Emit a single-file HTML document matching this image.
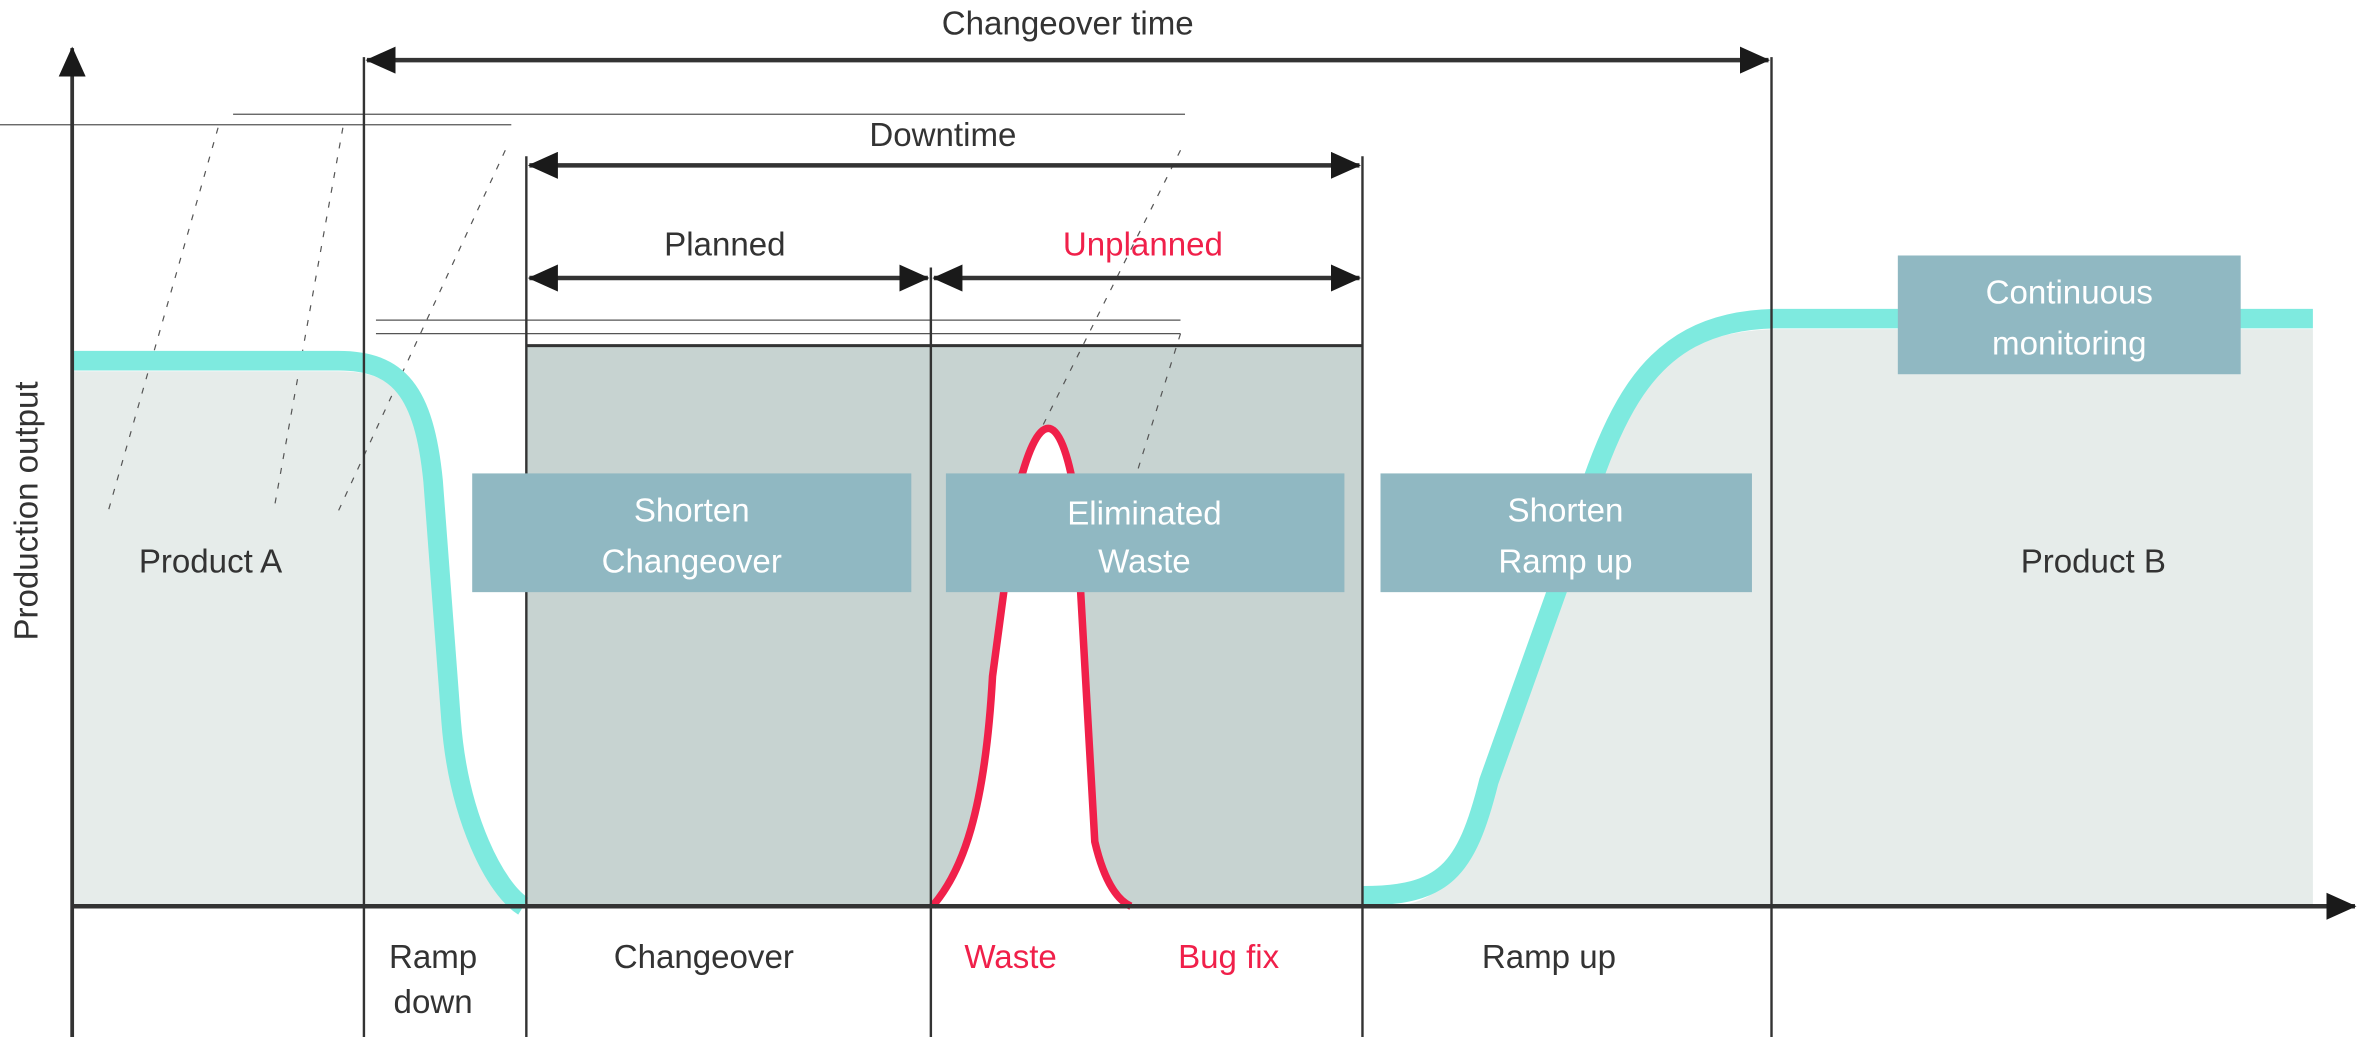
<!DOCTYPE html>
<html><head><meta charset="utf-8"><style>
html,body{margin:0;padding:0;background:#fff;}
svg{display:block;}
text{font-family:"Liberation Sans",sans-serif;font-size:22px;}
</style></head><body>
<svg width="2358" height="1037" viewBox="0 0 1568 690" preserveAspectRatio="none" xmlns="http://www.w3.org/2000/svg">
<defs>
<marker id="ah" markerWidth="20" markerHeight="18" refX="19" refY="9" orient="auto-start-reverse" markerUnits="userSpaceOnUse" viewBox="0 0 20 18">
<path d="M0,0 L20,9 L0,18 z" fill="#1a1a1a"/></marker>
</defs>
<path d="M48,247 L225,247 C262,247 276,262 282,320 L294,480 C299,545 325,592 342,603 L48,603 Z" fill="#e6ecea"/>
<path d="M985,520 L1034,380 C1064,285 1086,222 1180,219 L1538,219 L1538,603 L920,603 C960,603 975,580 985,520 Z" fill="#e6ecea"/>
<rect x="350" y="230" width="556" height="373" fill="#c7d3d1"/>
<path d="M620,603 C640,580 655,540 660,450 L676,330 C690,270 705,270 715,330 L728,560 C735,590 745,600 752,603 Z" fill="#fff"/>
<line x1="350" y1="230" x2="906" y2="230" stroke="#333" stroke-width="2"/>
<g stroke="#555" stroke-width="0.8" fill="none">
<line x1="0" y1="83" x2="340" y2="83"/>
<line x1="155" y1="76" x2="788" y2="76"/>
<line x1="250" y1="213" x2="785" y2="213"/>
<line x1="250" y1="222" x2="785" y2="222"/>
<g stroke-dasharray="4,6">
<line x1="145" y1="85" x2="72" y2="340"/>
<line x1="228" y1="85" x2="182" y2="340"/>
<line x1="336" y1="100" x2="225" y2="340"/>
<line x1="785" y1="100" x2="665" y2="340"/>
<line x1="785" y1="222" x2="748" y2="340"/>
</g></g>
<path d="M48,240 L225,240 C265,240 282,260 288,320 L300,480 C305,545 330,592 348,603" fill="none" stroke="#7eeadf" stroke-width="13"/>
<path d="M906,596 C960,596 975,580 990,520 L1040,380 C1070,280 1090,214 1180,212 L1538,212" fill="none" stroke="#7eeadf" stroke-width="13"/>
<path d="M620,603 C640,580 655,540 660,450 L676,330 C690,270 705,270 715,330 L728,560 C735,590 745,600 752,603" fill="none" stroke="#f0204a" stroke-width="5"/>
<g stroke="#333" stroke-width="1.6">
<line x1="242" y1="38" x2="242" y2="690"/>
<line x1="350" y1="104" x2="350" y2="690"/>
<line x1="619" y1="178" x2="619" y2="690"/>
<line x1="906" y1="104" x2="906" y2="690"/>
<line x1="1178" y1="38" x2="1178" y2="690"/>
</g>
<line x1="48" y1="690" x2="48" y2="32" stroke="#333" stroke-width="2.5" marker-end="url(#ah)"/>
<line x1="48" y1="603" x2="1566" y2="603" stroke="#333" stroke-width="3" marker-end="url(#ah)"/>
<g stroke="#333" stroke-width="3">
<line x1="244" y1="40" x2="1176" y2="40" marker-start="url(#ah)" marker-end="url(#ah)"/>
<line x1="352" y1="110" x2="904" y2="110" marker-start="url(#ah)" marker-end="url(#ah)"/>
<line x1="352" y1="185" x2="617" y2="185" marker-start="url(#ah)" marker-end="url(#ah)"/>
<line x1="621" y1="185" x2="904" y2="185" marker-start="url(#ah)" marker-end="url(#ah)"/>
</g>
<g fill="#333" text-anchor="middle">
<text x="710" y="23">Changeover time</text>
<text x="627" y="97">Downtime</text>
<text x="482" y="170">Planned</text>
<text x="760" y="170" fill="#f0204a">Unplanned</text>
<text x="140" y="381">Product A</text>
<text x="1392" y="381">Product B</text>
<text x="288" y="644">Ramp</text>
<text x="288" y="674">down</text>
<text x="468" y="644">Changeover</text>
<text x="672" y="644" fill="#f0204a">Waste</text>
<text x="817" y="644" fill="#f0204a">Bug fix</text>
<text x="1030" y="644">Ramp up</text>
<text transform="translate(25,340) rotate(-90)">Production output</text>
</g>
<g fill="#90b8c2">
<rect x="314" y="315" width="292" height="79"/>
<rect x="629" y="315" width="265" height="79"/>
<rect x="918" y="315" width="247" height="79"/>
<rect x="1262" y="170" width="228" height="79"/>
</g>
<g fill="#fff" text-anchor="middle">
<text x="460" y="347">Shorten</text><text x="460" y="381">Changeover</text>
<text x="761" y="349">Eliminated</text><text x="761" y="381">Waste</text>
<text x="1041" y="347">Shorten</text><text x="1041" y="381">Ramp up</text>
<text x="1376" y="202">Continuous</text><text x="1376" y="236">monitoring</text>
</g>
</svg>
</body></html>
